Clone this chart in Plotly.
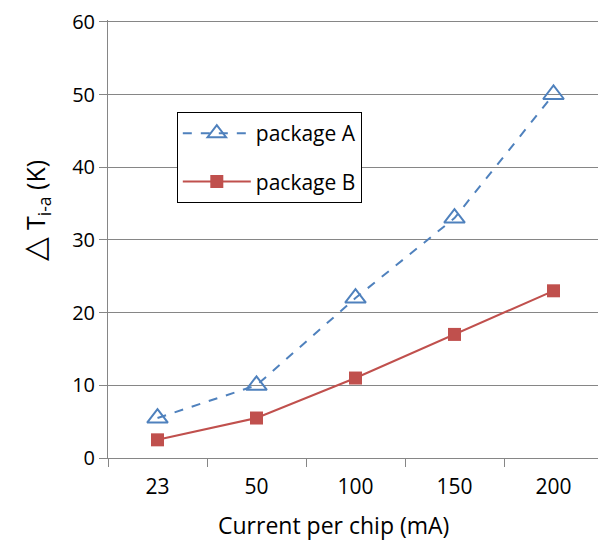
import plotly.graph_objects as go

categories = ["23", "50", "100", "150", "200"]
package_a = [5.5, 10, 22, 33, 50]
package_b = [2.5, 5.5, 11, 17, 23]
y_ticks = [0, 10, 20, 30, 40, 50, 60]

font = "Open Sans, Liberation Sans, sans-serif"

fig = go.Figure()
fig.add_trace(go.Scatter(
    x=categories, y=package_a, name="package A", mode="lines+markers",
    legendgroup="a",
    line=dict(color="#4F81BD", width=2, dash="dash"),
    marker=dict(symbol="triangle-up-open", size=18, color="#4F81BD", line=dict(width=2, color="#4F81BD")),
))
fig.add_trace(go.Scatter(
    x=categories, y=package_b, name="package B", mode="lines+markers",
    legendgroup="b",
    line=dict(color="#C0504D", width=2),
    marker=dict(symbol="square", size=13, color="#C0504D"),
))

# page body adds an 8px margin, so the figure is drawn 8px smaller and offset
fig.update_layout(
    width=598, height=539,
    margin=dict(l=100, r=3, t=12, b=89, autoexpand=False),
    paper_bgcolor="white", plot_bgcolor="white",
    font=dict(family=font, size=21, color="black"),
    showlegend=True,
    legend=dict(x=0.139, y=0.79, xanchor="left", yanchor="top",
                bordercolor="black", borderwidth=1, bgcolor="white",
                font=dict(size=21), tracegroupgap=18, itemwidth=68),
    xaxis=dict(
        type="category", range=[-0.5, 4.5], tickson="boundaries",
        ticks="outside", ticklen=8, tickcolor="#868686",
        showline=True, linecolor="#868686", linewidth=1,
        showgrid=False, zeroline=False, automargin=False,
        ticklabelstandoff=10,
        tickfont=dict(size=21),
    ),
    yaxis=dict(
        range=[0, 60.25], tickvals=y_ticks, ticksuffix="\u2002",
        ticks="outside", ticklen=8, tickcolor="#868686",
        showline=True, linecolor="#868686", linewidth=1,
        showgrid=True, gridcolor="#868686", gridwidth=1, zeroline=False,
        automargin=False, ticklabeloverflow="allow",
        tickfont=dict(size=20),
    ),
    annotations=[
        dict(
            text="<span style='font-size:31px'>△</span> T<sub>i-a</sub> (K)",
            textangle=-90, showarrow=False,
            xref="paper", yref="paper", x=0, y=0.565, xanchor="center", yanchor="middle",
            xshift=-74, font=dict(size=25, family=font),
        ),
        dict(
            text="Current per chip (mA)", showarrow=False,
            xref="paper", yref="paper", x=0.455, y=0, xanchor="center", yanchor="middle",
            yshift=-67, font=dict(size=23, family=font),
        ),
    ],
)

fig.write_html("out.html")
